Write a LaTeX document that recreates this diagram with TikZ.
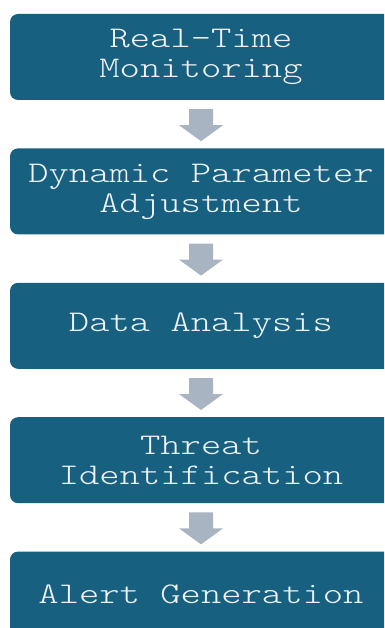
\documentclass[tikz,border=0pt]{standalone}
\usepackage{fontspec}
\newfontfamily\stepfont{Latin Modern Mono Light}[FakeStretch=1.29]
\usetikzlibrary{calc}
\usetikzlibrary{positioning}

\definecolor{boxblue}{RGB}{23,96,128}
\definecolor{arrowgray}{RGB}{169,180,194}
\definecolor{textwhite}{RGB}{240,243,245}

\tikzset{
	stage/.style = {rectangle, rounded corners=8pt, fill=boxblue, text=textwhite,
		minimum width=382pt, minimum height=86pt, inner sep=0pt, align=center,
		font=\stepfont\fontsize{30}{30}\selectfont},
}

% block arrow between two stages
\newcommand{\flowarrow}[2]{%
	\fill[arrowgray] ($(#1.south)+(-12,-9)$) -- ($(#1.south)+(12,-9)$)
		-- ($(#2.north)+(12,23)$) -- ($(#2.north)+(22,23)$) -- ($(#2.north)+(0,7)$)
		-- ($(#2.north)+(-22,23)$) -- ($(#2.north)+(-12,23)$) -- cycle;}

\begin{document}
\begin{tikzpicture}[x=1pt, y=1pt, node distance=48pt]
	\useasboundingbox (0,0) rectangle (384,-628);
	\clip (0,0) rectangle (384,-628);
	
	\node[stage] (monitor) at (201,-57) {Real-Time\\Monitoring};
	\node[stage, below=of monitor] (adjust) {Dynamic Parameter\\Adjustment};
	\node[stage, below=of adjust] (analysis) {Data Analysis};
	\node[stage, below=of analysis] (threat) {Threat\\Identification};
	\node[stage, below=of threat] (alert) {Alert Generation};
	
	\flowarrow{monitor}{adjust}
	\flowarrow{adjust}{analysis}
	\flowarrow{analysis}{threat}
	\flowarrow{threat}{alert}
\end{tikzpicture}
\end{document}
